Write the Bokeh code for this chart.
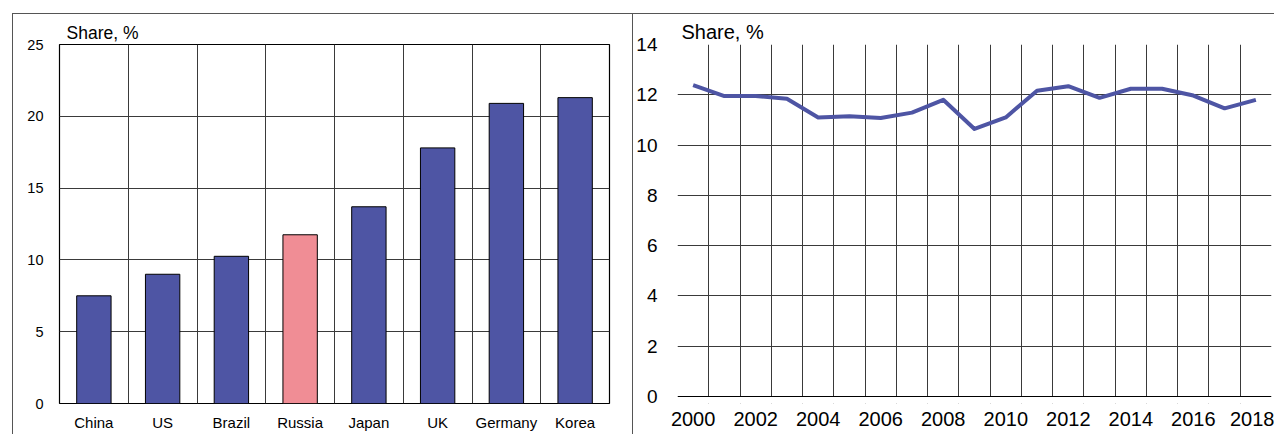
from bokeh.plotting import figure
from bokeh.layouts import row, column
from bokeh.models import (FixedTicker, ColumnDataSource, Range1d, Title, Spacer,
                          BoxAnnotation, Span)
from bokeh.embed import file_html
from bokeh.resources import INLINE

# ---- data ----
countries = ["China", "US", "Brazil", "Russia", "Japan", "UK", "Germany", "Korea"]
shares = [7.5, 9.0, 10.25, 11.75, 13.7, 17.8, 20.9, 21.3]
bar_colors = ["#4e55a4", "#4e55a4", "#4e55a4", "#f08d95", "#4e55a4", "#4e55a4", "#4e55a4", "#4e55a4"]

years = list(range(2000, 2019))
russia_share = [12.38, 11.95, 11.95, 11.84, 11.1, 11.15, 11.08, 11.29, 11.8, 10.64,
                11.1, 12.16, 12.34, 11.88, 12.24, 12.24, 11.97, 11.46, 11.8]
year_ticks = [2000, 2002, 2004, 2006, 2008, 2010, 2012, 2014, 2016, 2018]

FONT = "Liberation Sans"
FRAME_COL = "#555555"
GRID_COL = "#3a3a3a"
H = 420
TOP = 30          # canvas top -> frame top
FRAME_H = 359     # left frame height (0..25)
BOTTOM = H - TOP - FRAME_H

# ---- left: bar chart ----
xs = list(range(1, len(countries) + 1))
src = ColumnDataSource(dict(x=xs, top=shares, color=bar_colors))
p1 = figure(width=619, height=H, output_backend="svg", toolbar_location=None,
            x_range=Range1d(0.5, len(countries) + 0.5), y_range=Range1d(0, 25),
            min_border_left=46, min_border_right=23, min_border_top=TOP,
            min_border_bottom=BOTTOM)
p1.vbar(x="x", top="top", width=0.5, bottom=0, fill_color="color",
        line_color="black", line_width=1, source=src)
p1.xaxis.ticker = FixedTicker(ticks=xs)
p1.xaxis.major_label_overrides = {i: c for i, c in zip(xs, countries)}
p1.yaxis.ticker = FixedTicker(ticks=[0, 5, 10, 15, 20, 25])
p1.xgrid.ticker = FixedTicker(ticks=[i + 0.5 for i in xs[:-1]])
p1.ygrid.ticker = FixedTicker(ticks=[5, 10, 15, 20])
for g in (p1.xgrid, p1.ygrid):
    g.grid_line_color = GRID_COL
    g.grid_line_width = 1
p1.outline_line_color = "black"
p1.outline_line_width = 1.2
for ax in (p1.xaxis, p1.yaxis):
    ax.axis_line_color = None
    ax.major_tick_line_color = None
    ax.minor_tick_line_color = None
    ax.major_label_text_font = FONT
    ax.major_label_text_color = "black"
p1.xaxis.major_label_text_font_size = "15px"
p1.yaxis.major_label_text_font_size = "14.5px"
p1.xaxis.major_label_standoff = 4
p1.yaxis.major_label_standoff = 10
p1.add_layout(Title(text="Share, %", align="left", offset=7, standoff=4,
                    text_font=FONT, text_font_size="17.5px",
                    text_font_style="normal", text_color="black"), "above")

# ---- right: line chart ----
# frame spans the same height as the left one; value 0 sits 7px above its bottom
y0 = -7 * 14 / 352
p2 = figure(width=641, height=H, output_backend="svg", toolbar_location=None,
            x_range=Range1d(years[0] - 0.5, years[-1] + 0.5), y_range=Range1d(y0, 14),
            min_border_left=44, min_border_right=3, min_border_top=TOP,
            min_border_bottom=BOTTOM)
p2.line(years, russia_share, line_color="#4e55a4", line_width=4, line_join="round")
p2.xaxis.ticker = FixedTicker(ticks=year_ticks)
p2.yaxis.ticker = FixedTicker(ticks=[0, 2, 4, 6, 8, 10, 12, 14])
p2.xgrid.ticker = FixedTicker(ticks=[years[0] - 0.5] + [y + 0.5 for y in years])
p2.ygrid.ticker = FixedTicker(ticks=[2, 4, 6, 8, 10, 12, 14])
for g in (p2.xgrid, p2.ygrid):
    g.grid_line_color = GRID_COL
    g.grid_line_width = 1
p2.outline_line_color = None
# hide the strip below 0 and draw the bottom edge of the box
p2.add_layout(BoxAnnotation(left=years[0] - 0.5, right=years[-1] + 0.5, bottom=y0, top=0,
                            fill_color="white", fill_alpha=1, line_color=None))
p2.add_layout(Span(location=0, dimension="width", line_color="black", line_width=1.2))
for ax in (p2.xaxis, p2.yaxis):
    ax.axis_line_color = None
    ax.major_tick_line_color = None
    ax.minor_tick_line_color = None
    ax.major_label_text_font = FONT
    ax.major_label_text_color = "black"
p2.xaxis.major_label_text_font_size = "20px"
p2.yaxis.major_label_text_font_size = "19px"
p2.xaxis.major_label_standoff = 2
p2.yaxis.major_label_standoff = 14
p2.add_layout(Title(text="Share, %", align="left", offset=4, standoff=4,
                    text_font=FONT, text_font_size="20px",
                    text_font_style="normal", text_color="black"), "above")

# ---- page frame lines ----
def vline():
    return Spacer(width=1, height=H, styles={"background-color": FRAME_COL})

body = row(vline(), p1, vline(), p2)
top_line = Spacer(width=1262, height=1, styles={"background-color": FRAME_COL})
layout = column(Spacer(width=1274, height=13),
                row(Spacer(width=12, height=H + 1), column(top_line, body)))

open("out.html", "w").write(file_html(layout, INLINE))
